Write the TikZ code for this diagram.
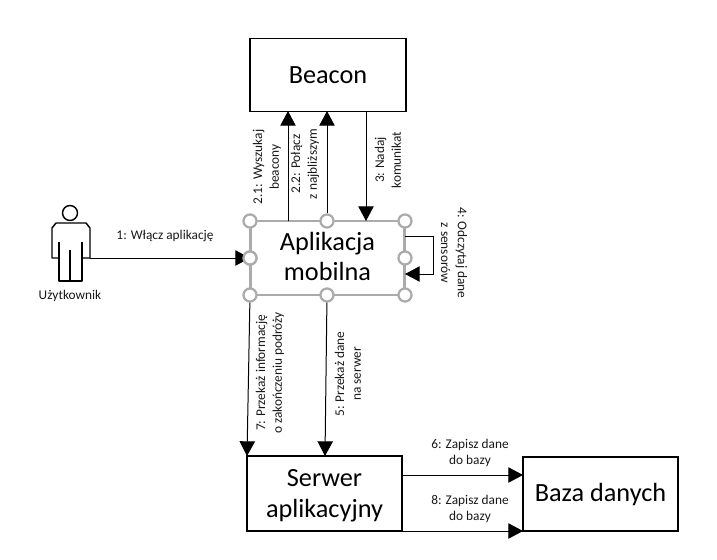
\documentclass[tikz,border=0pt]{standalone}
\usepackage{fontspec}
\setmainfont{Carlito}
\usetikzlibrary{arrows.meta}
\tikzset{
  x=0.75pt,y=-0.75pt,
  boxnode/.style={draw=black,line width=1.1pt,fill=white,inner sep=0pt,align=center,font=\fontsize{19.7}{23}\selectfont},
  appnode/.style={draw=black!33,line width=2.1pt,fill=white,inner sep=0pt},
  bigtext/.style={inner sep=0pt,align=center,font=\fontsize{19.7}{23}\selectfont},
  handle/.style={circle,draw=black!33,line width=1.7pt,fill=white,minimum size=9.8pt,inner sep=0pt},
  conn/.style={draw=black,line width=0.75pt,-{Triangle[length=11pt,width=11.5pt]}},
  lab/.style={font=\fontsize{10}{12.6}\selectfont,align=center,inner sep=0pt,text=black!90},
  actorline/.style={draw=black,line width=1.1pt,line join=round}
}
\begin{document}
\begin{tikzpicture}
\useasboundingbox (0,0) rectangle (717,560);
\fill[white] (0,0) rectangle (717,560);
% boxes
\node[boxnode,minimum width=117pt,minimum height=55pt] (beacon) at (328,75) {Beacon};
\node[boxnode,minimum width=116pt,minimum height=56pt] (server) at (324.5,493.5) {};
\node[bigtext] (servertext) at (324.5,496) {Serwer\\aplikacyjny};
\node[boxnode,minimum width=116pt,minimum height=55.5pt] (baza) at (600.5,494) {Baza danych};
\node[appnode,minimum width=116pt,minimum height=55.5pt] (app) at (327.5,258) {};
\node[bigtext] (apptext) at (327.5,256.5) {Aplikacja\\mobilna};
% actor
\draw[actorline] (70,213) circle (7.5);
\coordinate (armend) at (90,258);
\draw[actorline] (59,258) -- (52,258) -- (52,228) -- (56,223) -- (86,223) -- (90,228) -- (armend) -- (82,258);
\draw[actorline] (59,242) -- (59,281) -- (82,281) -- (82,242);
\draw[actorline] (70,250) -- (70,281);
\node[lab] (user) at (70,296) {Użytkownik};
% connector anchors
\coordinate (a21) at (288,221);
\coordinate (b21) at (288,111);
\coordinate (b22) at (327,111);
\coordinate (b3) at (366,111);
\coordinate (a3) at (366,221);
\coordinate (s7) at (247,456);
\coordinate (s5) at (325,456);
\coordinate (s6) at (402.5,475);
\coordinate (d6) at (523,475);
\coordinate (s8) at (402.5,531);
\coordinate (d8) at (523,531);
\coordinate (l1) at (405,236);
\coordinate (l2) at (433,236);
\coordinate (l3) at (433,274);
\coordinate (l4) at (405,274);
% handle nodes
\node[handle] (h1) at (250,221) {};
\node[handle] (h2) at (327,221) {};
\node[handle] (h3) at (405,221) {};
\node[handle] (h4) at (250,258) {};
\node[handle] (h5) at (405,258) {};
\node[handle] (h6) at (250,295) {};
\node[handle] (h7) at (327,295) {};
\node[handle] (h8) at (405,295) {};
% connectors
\draw[conn] (armend) -- (h4.center);
\draw[conn] (a21) -- (b21);
\draw[conn] (h2) -- (b22);
\draw[conn] (b3) -- (a3);
\draw[conn] (l1) -- (l2) -- (l3) -- (l4);
\draw[conn] (h6) -- (s7);
\draw[conn] (h7) -- (s5);
\draw[conn] (s6) -- (d6);
\draw[conn] (s8) -- (d8);
% handles on top of the arrow tip
\node[handle] at (h4) {};
% labels
\node[lab] (t1) at (165,236) {1: Włącz aplikację};
\node[lab,rotate=90] (t21) at (267,167) {2.1: Wyszukaj\\beacony};
\node[lab,rotate=90] (t22) at (305,164) {2.2: Połącz\\z najbliższym};
\node[lab,rotate=90] (t3) at (388,160) {3: Nadaj\\komunikat};
\node[lab,rotate=-90] (t4) at (454,253) {4: Odczytaj dane\\z sensorów};
\node[lab,rotate=90] (t7) at (270,373) {7: Przekaż informację\\o zakończeniu podróży};
\node[lab,rotate=90] (t5) at (348,374) {5: Przekaż dane\\na serwer};
\node[lab] (t6) at (470,453) {6: Zapisz dane\\do bazy};
\node[lab] (t8) at (470,509) {8: Zapisz dane\\do bazy};
\end{tikzpicture}
\end{document}
